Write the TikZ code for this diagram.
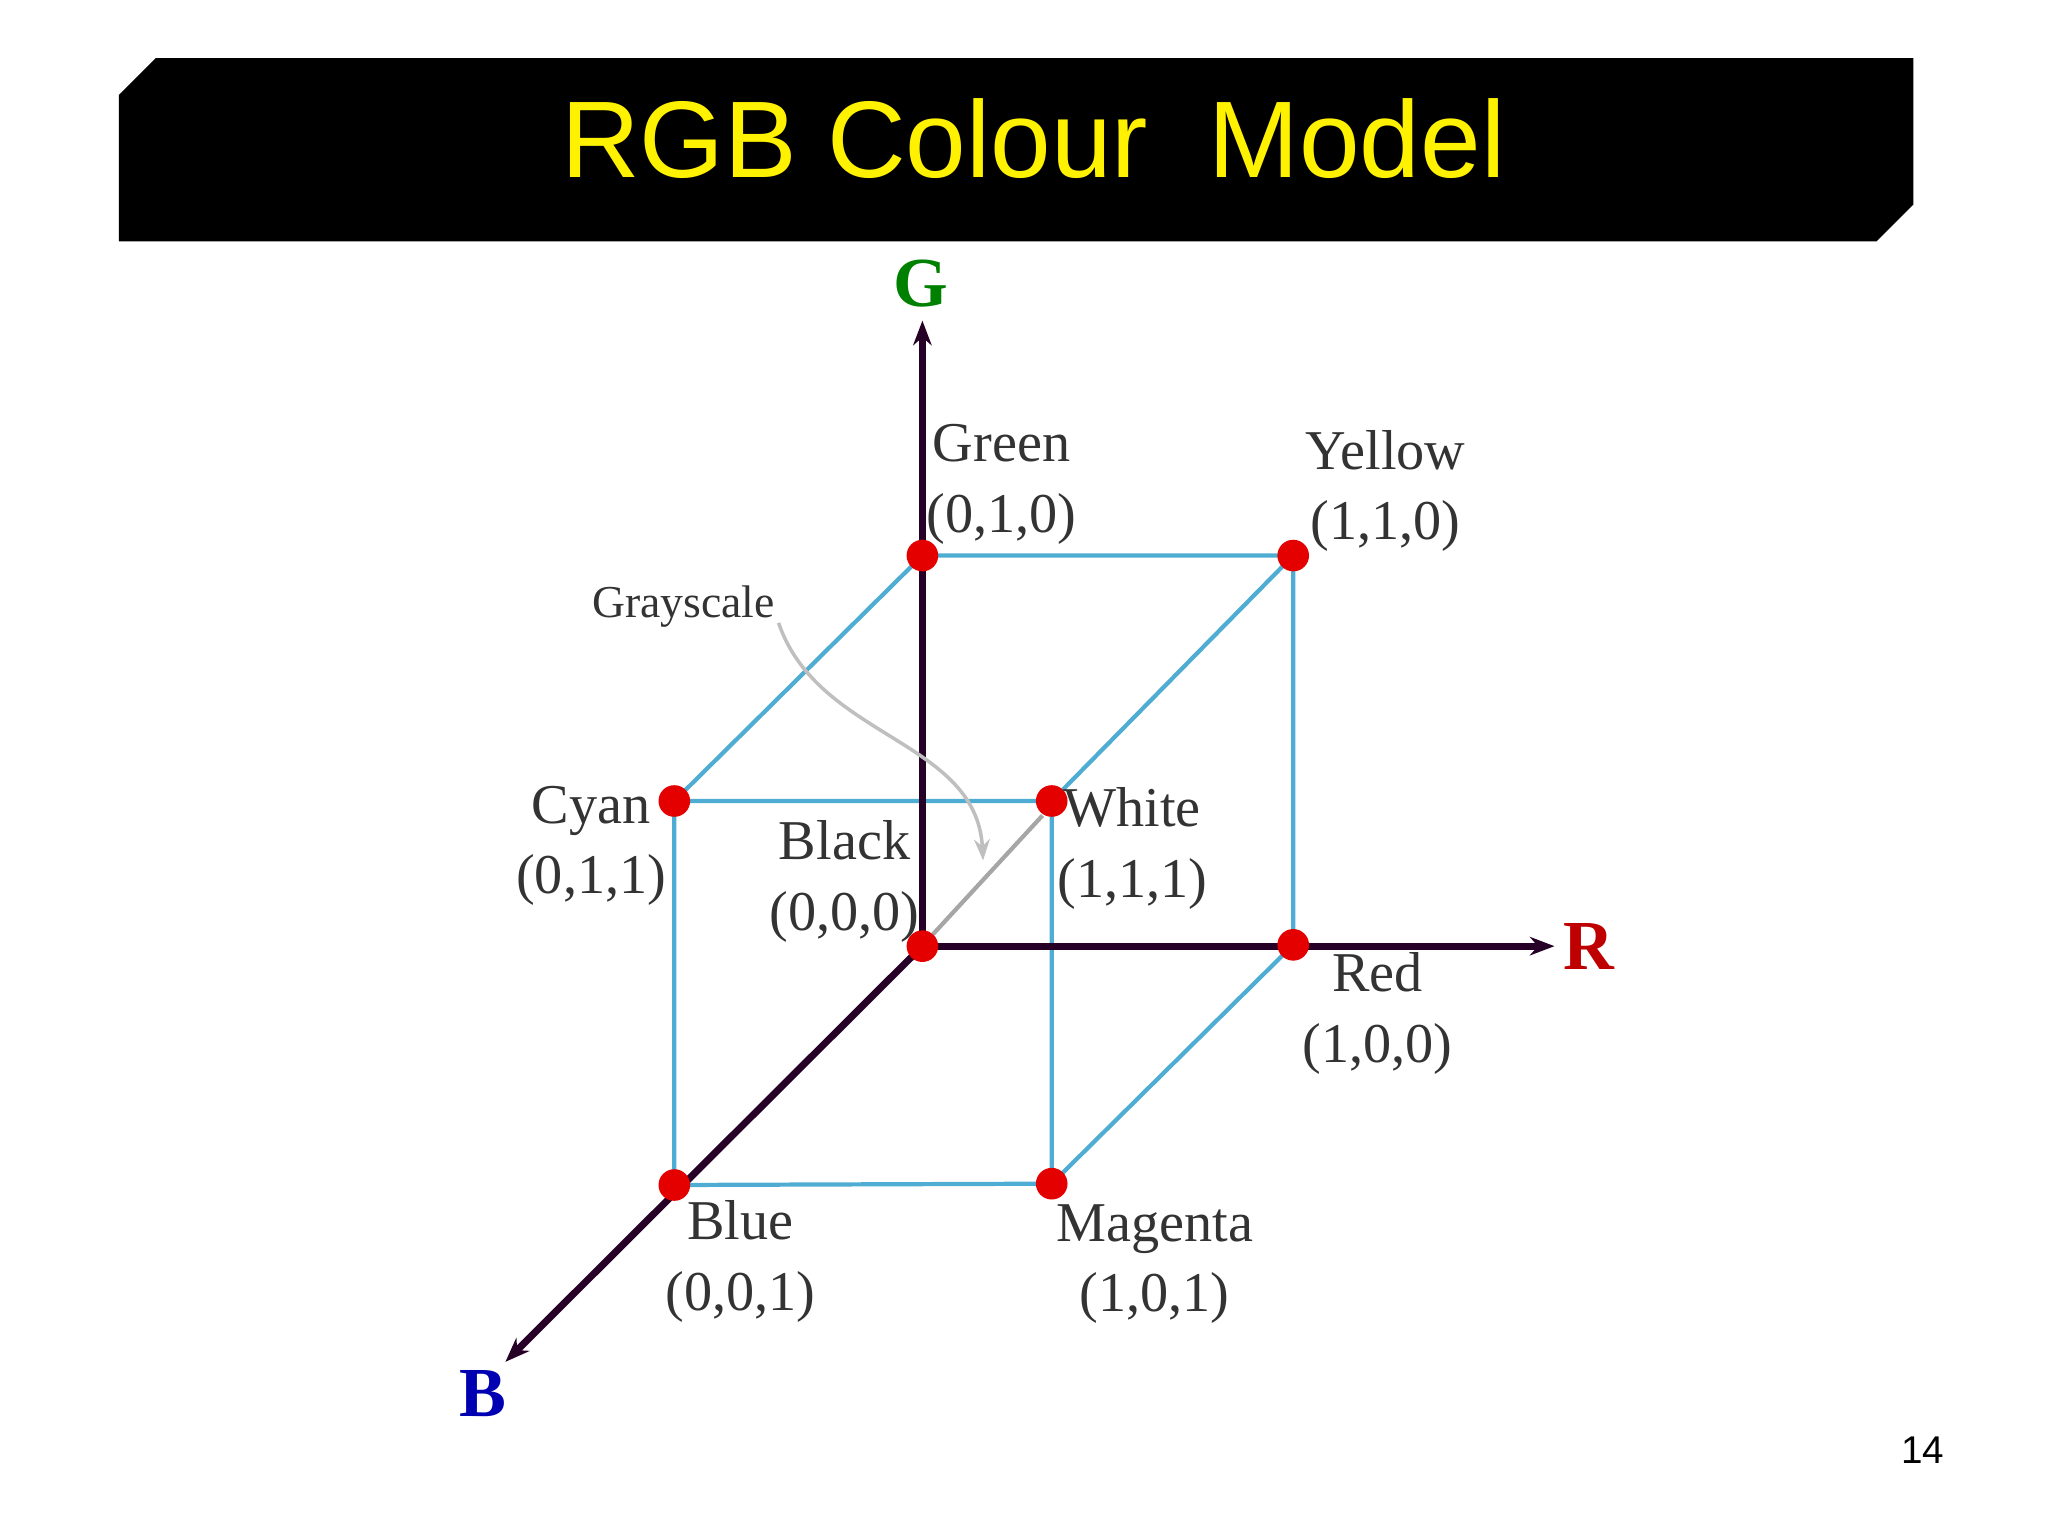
\documentclass[tikz,border=0pt]{standalone}
\usepackage{fontspec}
\setmainfont{Liberation Serif}
\newfontfamily\titlefont{Liberation Sans}
\usetikzlibrary{arrows.meta}
\begin{document}
\begin{tikzpicture}[x=0.013196cm,y=-0.013196cm,
  edge/.style={draw=cyan!60!teal!80!white,line width=1.2pt},
  axis/.style={draw=black!70!violet,line width=2pt,-{Stealth[length=7pt]}},
  pt/.style={circle,fill=red!90!black,inner sep=0pt,minimum size=9pt},
  lab/.style={font=\fontsize{16}{20}\selectfont,align=center,text=black!80}]
\useasboundingbox (0,0) rectangle (1552,1164);
\fill[black] (90,72) -- (118,44) -- (1450,44) -- (1450,155) -- (1422,183) -- (90,183) -- cycle;
\node[text=yellow,font=\titlefont\fontsize{31}{36}\selectfont] (title) at (783,105) {RGB Colour\ \ Model};
\node[font=\titlefont\fontsize{11}{13}\selectfont] (pg) at (1457,1099) {14};
\coordinate (K) at (699,717); \coordinate (Gr) at (699,421); \coordinate (Y) at (980,421);
\coordinate (R) at (980,716); \coordinate (C) at (511,607); \coordinate (W) at (797,607);
\coordinate (Bl) at (511,898); \coordinate (M) at (797,897);
\coordinate (Gend) at (699,243); \coordinate (Rend) at (1178,717); \coordinate (Bend) at (383,1032);
\path[edge] (Gr)--(Y)--(R) (C)--(W)--(M)--(Bl)--cycle (Gr)--(C) (Y)--(W) (R)--(M);
\draw[axis] (K)--(Gend); \draw[axis] (K)--(Rend); \draw[axis] (K)--(Bend);
\draw[gray!70,line width=1.2pt] (790,618)--(707,708);
\draw[gray!50,line width=1pt,-{Stealth[length=6pt]}] (590,472) .. controls (620,560) and (740,560) .. (745,652);
\foreach \p in {K,Gr,Y,R,C,W,Bl,M} \node[pt] at (\p) {};
\node[text=green!50!black,font=\bfseries\fontsize{20}{22}\selectfont] (gl) at (698,215) {G};
\node[text=red!75!black,font=\bfseries\fontsize{20}{22}\selectfont] (rl) at (1204,717) {R};
\node[text=blue!70!black,font=\bfseries\fontsize{20}{22}\selectfont] (bl) at (366,1056) {B};
\node[lab] (ng) at (759,367) {Green\\(0,1,0)};
\node[lab] (ny) at (1050,372) {Yellow\\(1,1,0)};
\node[lab] (nc) at (448,641) {Cyan\\(0,1,1)};
\node[lab] (nk) at (640,668) {Black\\(0,0,0)};
\node[lab] (nw) at (858,643) {White\\(1,1,1)};
\node[lab] (nr) at (1044,768) {Red\\(1,0,0)};
\node[lab] (nb) at (561,956) {Blue\\(0,0,1)};
\node[lab] (nm) at (875,958) {Magenta\\(1,0,1)};
\node[lab,font=\fontsize{13}{16}\selectfont] (gs) at (518,460) {Grayscale};
\end{tikzpicture}
\end{document}
